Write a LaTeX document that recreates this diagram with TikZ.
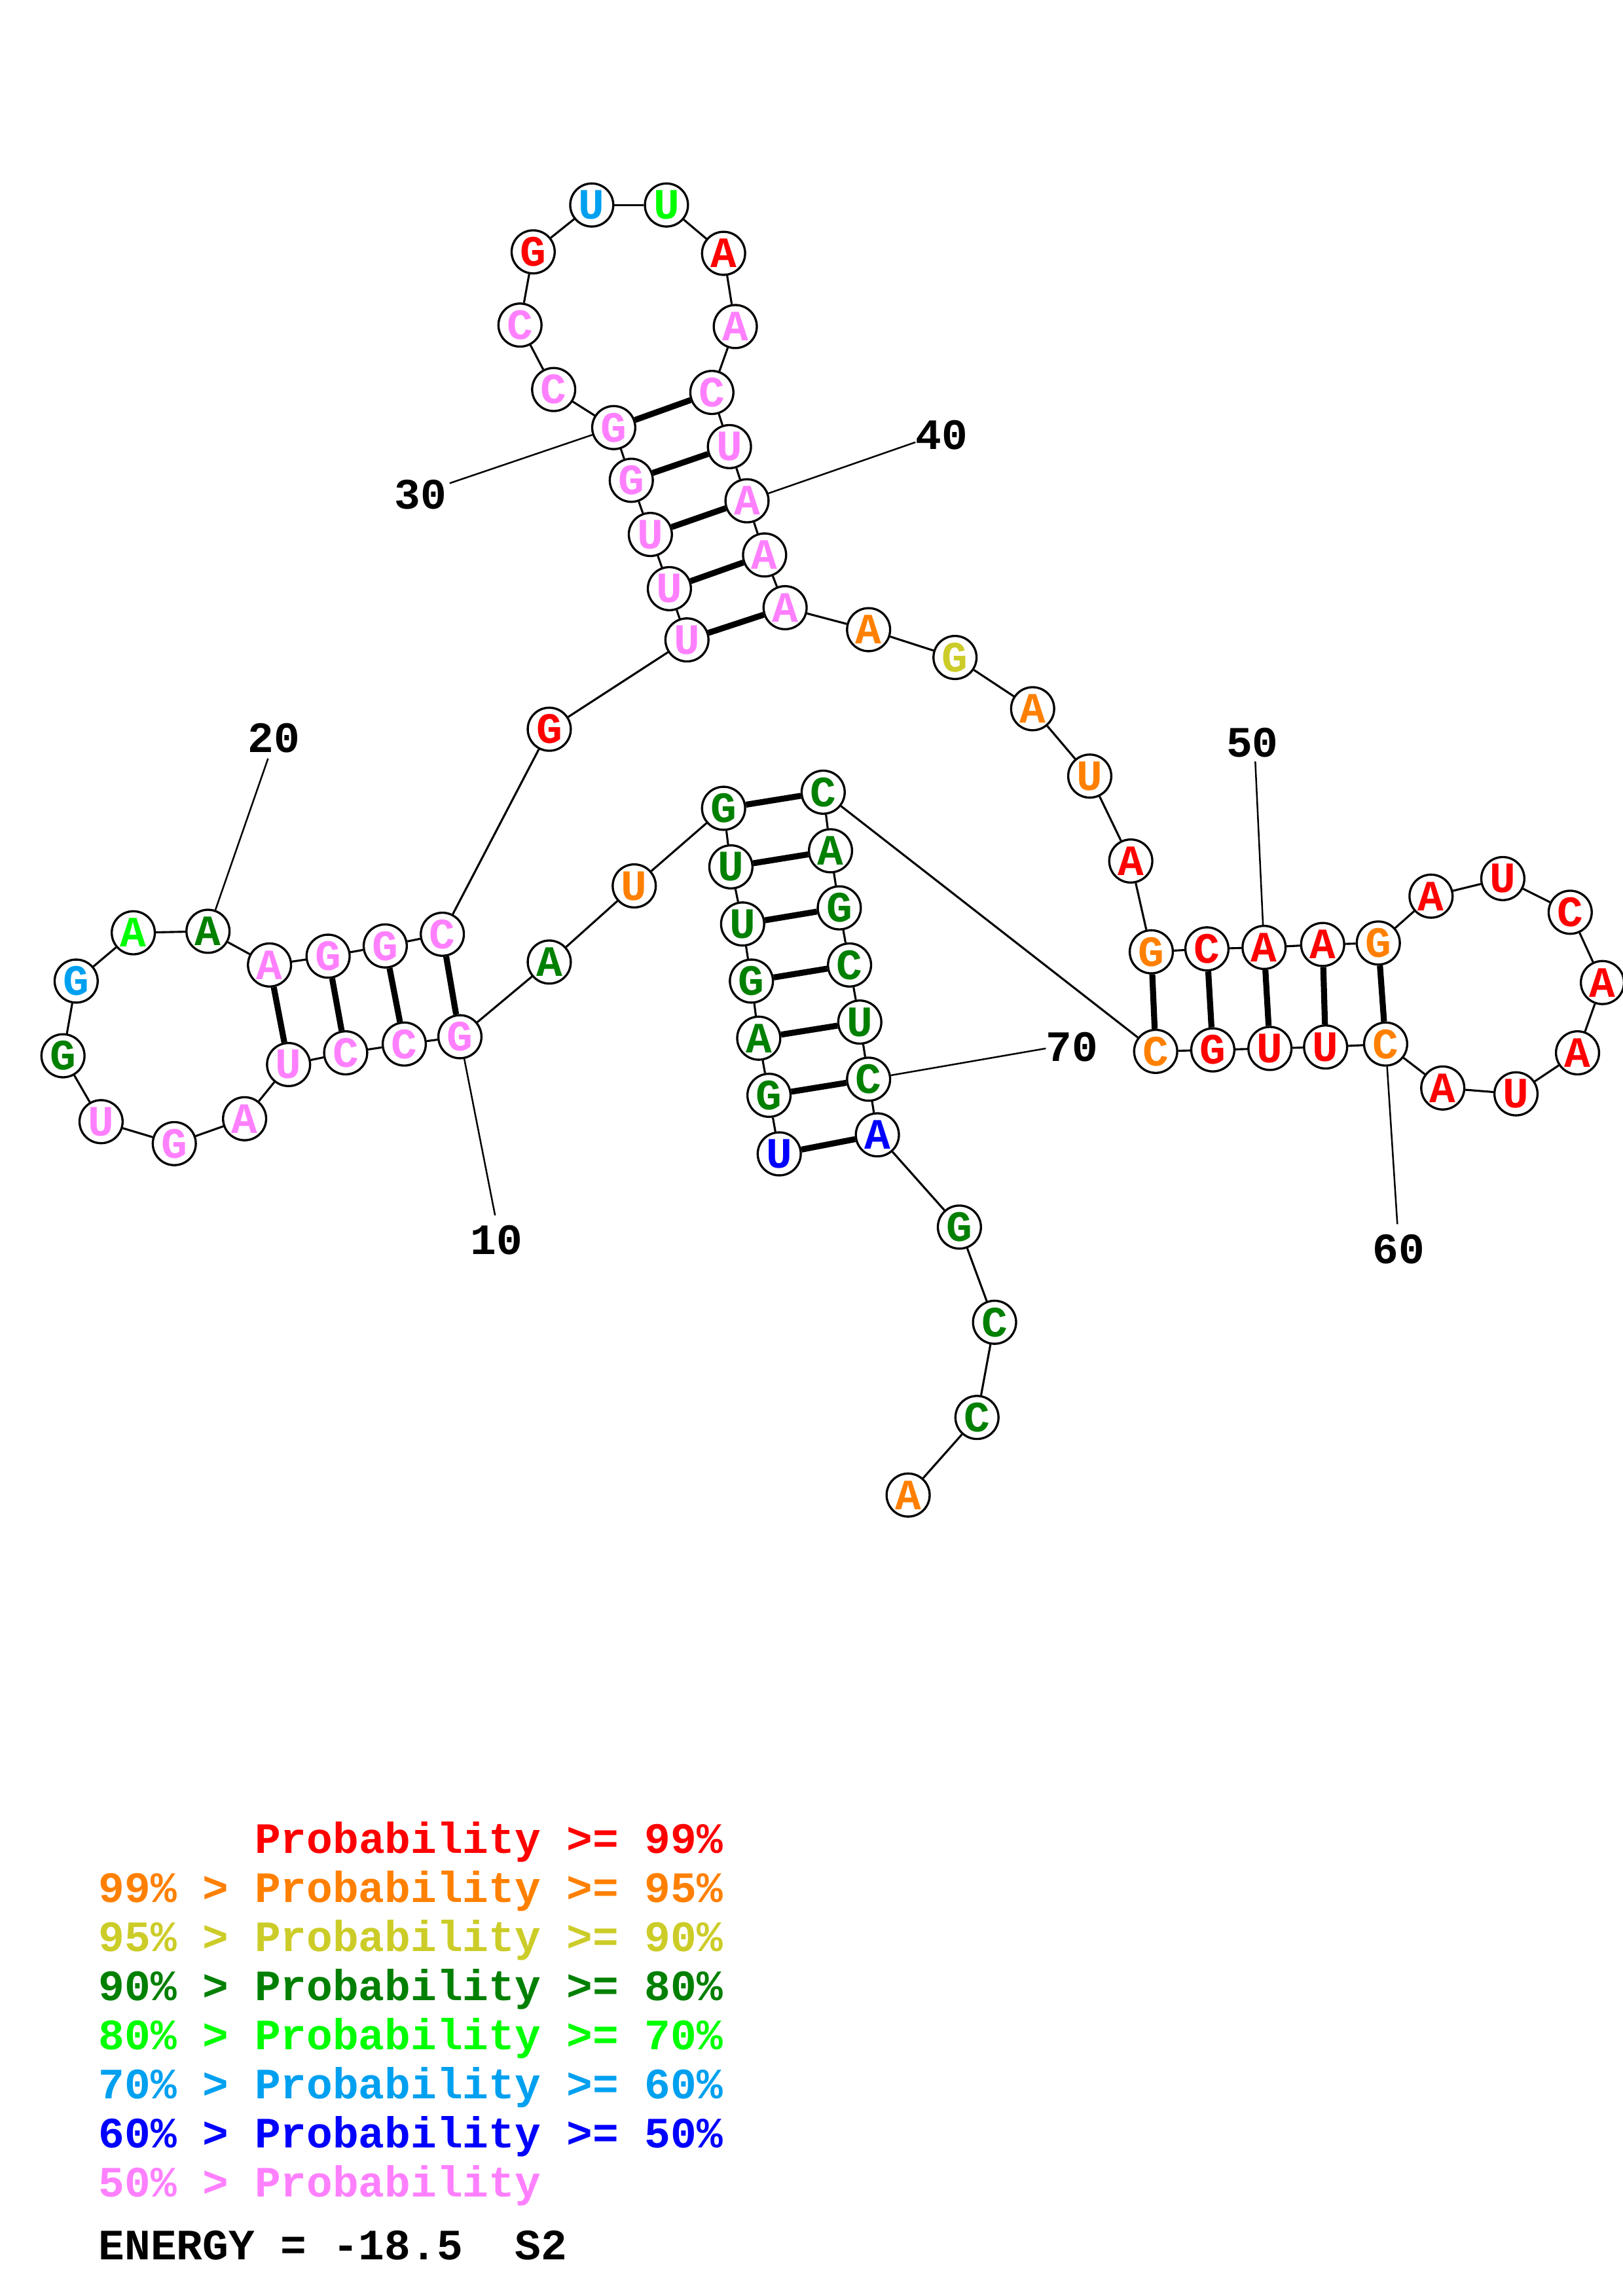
\documentclass[tikz,border=0pt]{standalone}
\usepackage{fontspec}
\newfontfamily\courb{Liberation Mono}
\definecolor{cR}{RGB}{255,0,0}
\definecolor{cO}{RGB}{255,128,0}
\definecolor{cY}{RGB}{204,204,40}
\definecolor{cG}{RGB}{0,128,0}
\definecolor{cL}{RGB}{0,255,0}
\definecolor{cS}{RGB}{0,160,240}
\definecolor{cB}{RGB}{0,0,255}
\definecolor{cP}{RGB}{255,128,255}
\begin{document}
\begin{tikzpicture}[x=0.5373pt,y=-0.5373pt,
  every node/.style={font={\fontsize{15.9}{18}\courb\bfseries}},
  nt/.style={circle,draw=black,line width=0.8pt,fill=white,minimum size=15.8pt,inner sep=0pt},
  bb/.style={line width=0.75pt},
  bp/.style={line width=2.2pt},
  lead/.style={line width=0.6pt},
  lbl/.style={text=black,inner sep=0pt},
  leg/.style={anchor=base west,inner sep=0pt}]
\useasboundingbox[fill=white] (0,0) rectangle (1108,1568);
\foreach \i/\b/\c/\x/\y in {
 1/U/cB/532/788, 2/G/cG/525/748, 3/A/cG/518/709, 4/G/cG/513/670, 5/U/cG/507/631,
 6/U/cG/499/592, 7/G/cG/494/552, 8/U/cO/433/605, 9/A/cG/375/657, 10/G/cP/314/708,
 11/C/cP/276/713, 12/C/cP/236/719, 13/U/cP/197/727, 14/A/cP/167/764, 15/G/cP/119/781,
 16/U/cP/69/766, 17/G/cG/43/721, 18/G/cS/52/670, 19/A/cL/91/637, 20/A/cG/142/636,
 21/A/cP/184/659, 22/G/cP/224/653, 23/G/cP/263/646, 24/C/cP/302/638, 25/G/cR/375/498,
 26/U/cP/469/437, 27/U/cP/457/402, 28/U/cP/444/365, 29/G/cP/431/328, 30/G/cP/419/292,
 31/C/cP/378/266, 32/C/cP/355/222, 33/G/cR/364/172, 34/U/cS/404/140, 35/U/cL/455/140,
 36/A/cR/494/173, 37/A/cP/502/223, 38/C/cP/486/268, 39/U/cP/498/305, 40/A/cP/510/342,
 41/A/cP/522/379, 42/A/cP/536/415, 43/A/cO/593/430, 44/G/cY/652/449, 45/A/cO/705/484,
 46/U/cO/744/530, 47/A/cR/772/588, 48/G/cO/786/650, 49/C/cR/824/648, 50/A/cR/863/647,
 51/A/cR/903/645, 52/G/cO/941/644, 53/A/cR/977/612, 54/U/cR/1026/600, 55/C/cR/1072/623,
 56/A/cR/1094/671, 57/A/cR/1077/719, 58/U/cR/1035/747, 59/A/cR/985/743, 60/C/cO/946/713,
 61/U/cR/905/715, 62/U/cR/867/716, 63/G/cR/828/717, 64/C/cO/789/718, 65/C/cG/562/541,
 66/A/cG/567/581, 67/G/cG/573/620, 68/C/cG/580/659, 69/U/cG/587/698, 70/C/cG/593/737,
 71/A/cB/599/775, 72/G/cG/655/838, 73/C/cG/679/903, 74/C/cG/667/968, 75/A/cO/620/1021}
 {\node[nt,text=\c] (n\i) at (\x,\y) {\b};}
% backbone
\foreach \i [evaluate=\i as \j using int(\i+1)] in {1,...,74}
 {\draw[bb] (n\i) -- (n\j);}
% base pairs
\foreach \a/\b in {1/71,2/70,3/69,4/68,5/67,6/66,7/65,10/24,11/23,12/22,13/21,
 26/42,27/41,28/40,29/39,30/38,48/64,49/63,50/62,51/61,52/60}
 {\draw[bp] (n\a) -- (n\b);}
% position labels
\coordinate (e10) at (338,830);
\coordinate (e20) at (183,518);
\coordinate (e30) at (307,330);
\coordinate (e40) at (625,302);
\coordinate (e50) at (857,520);
\coordinate (e60) at (954,836);
\coordinate (e70) at (714,716);
\node[lbl] (t10) at (339,847) {10};
\node[lbl] (t20) at (187,504) {20};
\node[lbl] (t30) at (287,338) {30};
\node[lbl] (t40) at (643,297) {40};
\node[lbl] (t50) at (855,507) {50};
\node[lbl] (t60) at (955,853) {60};
\node[lbl] (t70) at (732,715) {70};
\foreach \k in {10,20,30,40,50,60,70}
 {\draw[lead] (n\k) -- (e\k);}
% legend
\node[leg,text=cR] (g1) at (67,1265.6) {\hphantom{99\% > }Probability >= 99\%};
\node[leg,text=cO] (g2) at (67,1299.1) {99\% > Probability >= 95\%};
\node[leg,text=cY] (g3) at (67,1332.6) {95\% > Probability >= 90\%};
\node[leg,text=cG] (g4) at (67,1366.1) {90\% > Probability >= 80\%};
\node[leg,text=cL] (g5) at (67,1399.6) {80\% > Probability >= 70\%};
\node[leg,text=cS] (g6) at (67,1433.1) {70\% > Probability >= 60\%};
\node[leg,text=cB] (g7) at (67,1466.6) {60\% > Probability >= 50\%};
\node[leg,text=cP] (g8) at (67,1500.1) {50\% > Probability};
\node[leg,text=black] (en) at (67,1543.1) {ENERGY = -18.5\ \ S2};
\end{tikzpicture}
\end{document}
